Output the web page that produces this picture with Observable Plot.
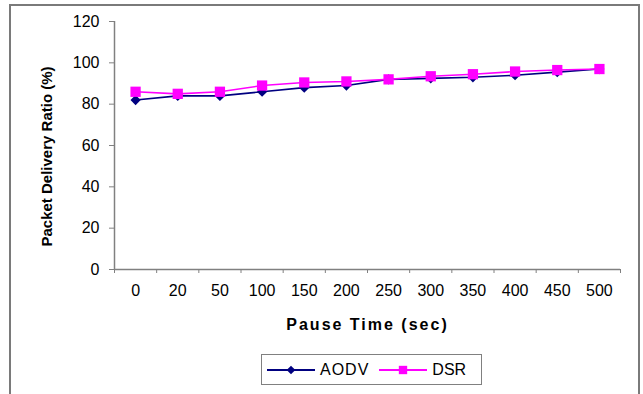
<!DOCTYPE html>
<html>
<head>
<meta charset="utf-8">
<script src="https://cdn.jsdelivr.net/npm/d3@7"></script>
<script src="https://cdn.jsdelivr.net/npm/@observablehq/plot@0.6"></script>
<style>
  html, body { margin: 0; padding: 0; background: #fff; }
  body { width: 643px; height: 394px; position: relative; overflow: hidden;
         font-family: "Liberation Sans", Arial, sans-serif; }
  #frame { position: absolute; left: 9px; top: 4px; width: 631px; height: 400px;
           border: 2px solid #7a7a7a; border-bottom: none; box-sizing: border-box; }
  #title { position: absolute; left: 0; width: 620px; top: -15px; text-align: center;
           font-size: 15px; font-weight: bold; color: #a0a0a0; }
  #chart { position: absolute; left: 0; top: 0; }
  #legend { position: absolute; left: 261px; top: 354px; width: 221px; height: 31px;
            border: 1px solid #808080; box-sizing: border-box; background: #fff;
            display: flex; align-items: center; font-size: 16px; color: #000; }
  #legend .item { display: flex; align-items: center; }
  #legend svg { display: block; }
</style>
</head>
<body>
<div id="frame"></div>
<div id="title">with 10 sources</div>
<div id="chart"></div>
<div id="legend"></div>
<script>
// Pause time categories (seconds) and packet delivery ratio (%) per protocol
const pauseTimes = [0, 20, 50, 100, 150, 200, 250, 300, 350, 400, 450, 500];
const aodv = [82, 84, 84, 86, 88, 89, 92, 92.5, 93, 94, 95.5, 97];
const dsr  = [86, 85, 86, 89, 90.5, 91, 92, 93.5, 94.5, 95.8, 96.5, 97];
const yTicks = [0, 20, 40, 60, 80, 100, 120];

const series = [
  {name: "AODV", values: aodv, color: "#000080", symbol: "diamond2", r: 4.6},
  {name: "DSR",  values: dsr,  color: "#ff00ff", symbol: "square",   r: 5.8}
];

// Categories sit in the middle of unit-wide slots so the axis ticks fall between them
const rows = series.flatMap(s => s.values.map((v, i) => ({
  series: s.name, slot: i + 0.5, value: v, pause: pauseTimes[i]
})));
const slotEdges = d3.range(pauseTimes.length + 1);
const slotCenters = pauseTimes.map((_, i) => i + 0.5);

const axisColor = "#808080";

const plot = Plot.plot({
  width: 643,
  height: 340,
  marginLeft: 114,
  marginRight: 23,
  marginTop: 21,
  marginBottom: 71,
  style: {fontFamily: "'Liberation Sans', Arial, sans-serif", fontSize: "16px", color: "#000", background: "transparent", overflow: "visible"},
  x: {type: "linear", domain: [0, pauseTimes.length]},
  y: {domain: [0, 120]},
  marks: [
    // axis lines
    Plot.ruleX([0], {stroke: axisColor, strokeWidth: 1.5}),
    Plot.ruleY([0], {stroke: axisColor, strokeWidth: 1.5}),
    // y axis ticks and labels
    Plot.axisY(yTicks, {tickSize: 5, tickPadding: 10, stroke: axisColor, label: null, fontSize: 16}),
    // x boundary ticks
    Plot.axisX(slotEdges, {tickSize: 4, tickFormat: () => "", stroke: axisColor, label: null}),
    // x category labels
    Plot.axisX(slotCenters, {tickSize: 0, tickPadding: 15, tickFormat: d => String(pauseTimes[Math.floor(d)]), label: null, fontSize: 16}),
    // lines and markers, DSR drawn above AODV
    ...series.flatMap(s => [
      Plot.line(rows.filter(d => d.series === s.name), {x: "slot", y: "value", stroke: s.color, strokeWidth: 1.6}),
      Plot.dot(rows.filter(d => d.series === s.name), {x: "slot", y: "value", fill: s.color, stroke: "none", symbol: s.symbol, r: s.r})
    ]),
    // axis titles
    Plot.text(["Pause Time (sec)"], {frameAnchor: "bottom", dy: 60, fontWeight: "bold", fontSize: 16, text: d => d}),
    Plot.text(["Packet Delivery Ratio (%)"], {frameAnchor: "left", dx: -67, dy: 11, rotate: -90, textAnchor: "middle", fontWeight: "bold", fontSize: 15, text: d => d})
  ]
});
// letter spacing for the x title
plot.querySelectorAll("text").forEach(t => {
  if (t.textContent === "Pause Time (sec)") t.setAttribute("letter-spacing", "2");
});
document.getElementById("chart").appendChild(plot);

// Legend: line sample with marker, followed by the series name
const legend = d3.select("#legend");
series.forEach((s, i) => {
  const item = legend.append("div").attr("class", "item")
    .style("margin-left", i === 0 ? "5px" : "10px");
  const svg = item.append("svg").attr("width", 48).attr("height", 14);
  svg.append("line").attr("x1", 0).attr("x2", 48).attr("y1", 7).attr("y2", 7)
    .attr("stroke", s.color).attr("stroke-width", 2);
  svg.append("path")
    .attr("transform", "translate(24,7)")
    .attr("d", d3.symbol(s.symbol === "square" ? d3.symbolSquare : d3.symbolDiamond2, s.symbol === "square" ? 70 : 48)())
    .attr("fill", s.color);
  item.append("span").text(s.name)
    .style("margin-left", "5px")
    .style("letter-spacing", s.name === "AODV" ? "1px" : "0px");
});
</script>
</body>
</html>
